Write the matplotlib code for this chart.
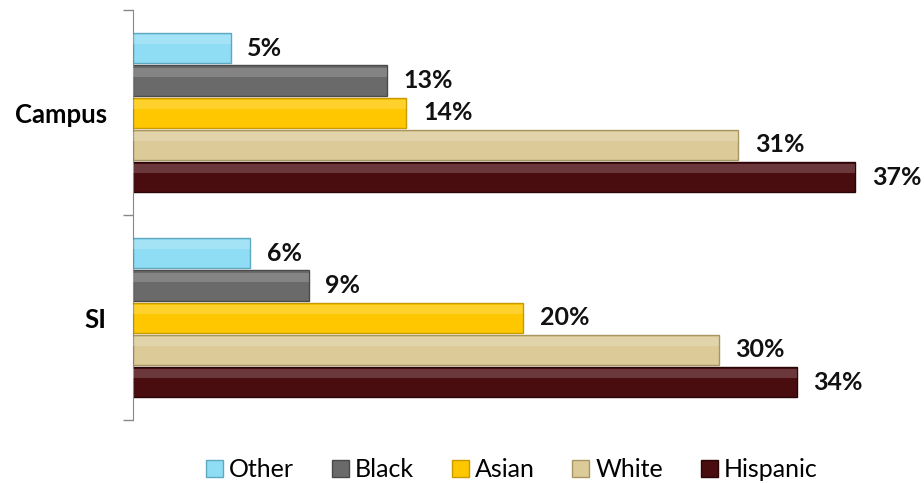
import matplotlib.pyplot as plt
from matplotlib.patches import Patch
import numpy as np

# Data
groups = ["SI", "Campus"]
series = ["Other", "Black", "Asian", "White", "Hispanic"]
other = [6, 5]
black = [9, 13]
asian = [20, 14]
white = [30, 31]
hispanic = [34, 37]

colors = ["#8FDDF4", "#6A6A6A", "#FFC700", "#DCCB98", "#4A0D0F"]
edges = ["#5FA9C0", "#4A4A4A", "#C79A00", "#A89660", "#2A0506"]

plt.rcParams["font.family"] = ["Lato", "DejaVu Sans"]

fig = plt.figure(figsize=(9.24, 4.83), dpi=100)
ax = fig.add_axes([0.144, 0.130, 0.845, 0.849])

values = [other, black, asian, white, hispanic]
y = np.arange(len(groups))
step = 0.157
height = 0.147

for i, (name, vals) in enumerate(zip(series, values)):
    offs = (2 - i) * step
    ax.barh(y + offs, vals, height=height, color=colors[i],
            edgecolor=edges[i], linewidth=1.0, label=name, zorder=2)
    # light highlight strip along the top for a bevelled look
    ax.barh(y + offs + height * 0.28, vals, height=height * 0.3,
            color="white", alpha=0.18, linewidth=0, zorder=3)
    for yy, v in zip(y + offs, vals):
        ax.annotate(f"{v}%", xy=(v, yy), xytext=(12, 0),
                    textcoords="offset points", ha="left", va="center",
                    fontsize=18, fontweight="bold", color="#111111")

ax.set_xlim(0, 40)
ax.set_ylim(-0.5, 1.5)

ax.set_yticks(y)
ax.set_yticklabels(groups, fontsize=18.5, fontweight="bold")
ax.tick_params(axis="y", which="major", length=0, pad=19)
ax.set_yticks([-0.5, 0.5, 1.5], minor=True)
ax.tick_params(axis="y", which="minor", length=7, color="#888888", width=1)
ax.set_xticks([])

for side in ["top", "right", "bottom"]:
    ax.spines[side].set_visible(False)
ax.spines["left"].set_color("#888888")

handles = [Patch(facecolor=c, edgecolor=e, label=s)
           for s, c, e in zip(series, colors, edges)]
fig.legend(handles=handles, loc="center", bbox_to_anchor=(0.554, 0.028),
           ncol=5, frameon=False, fontsize=18, handlelength=0.68,
           handleheight=0.68, handletextpad=0.25, columnspacing=1.5,
           borderpad=0)

fig.savefig("out.png", dpi=100)
